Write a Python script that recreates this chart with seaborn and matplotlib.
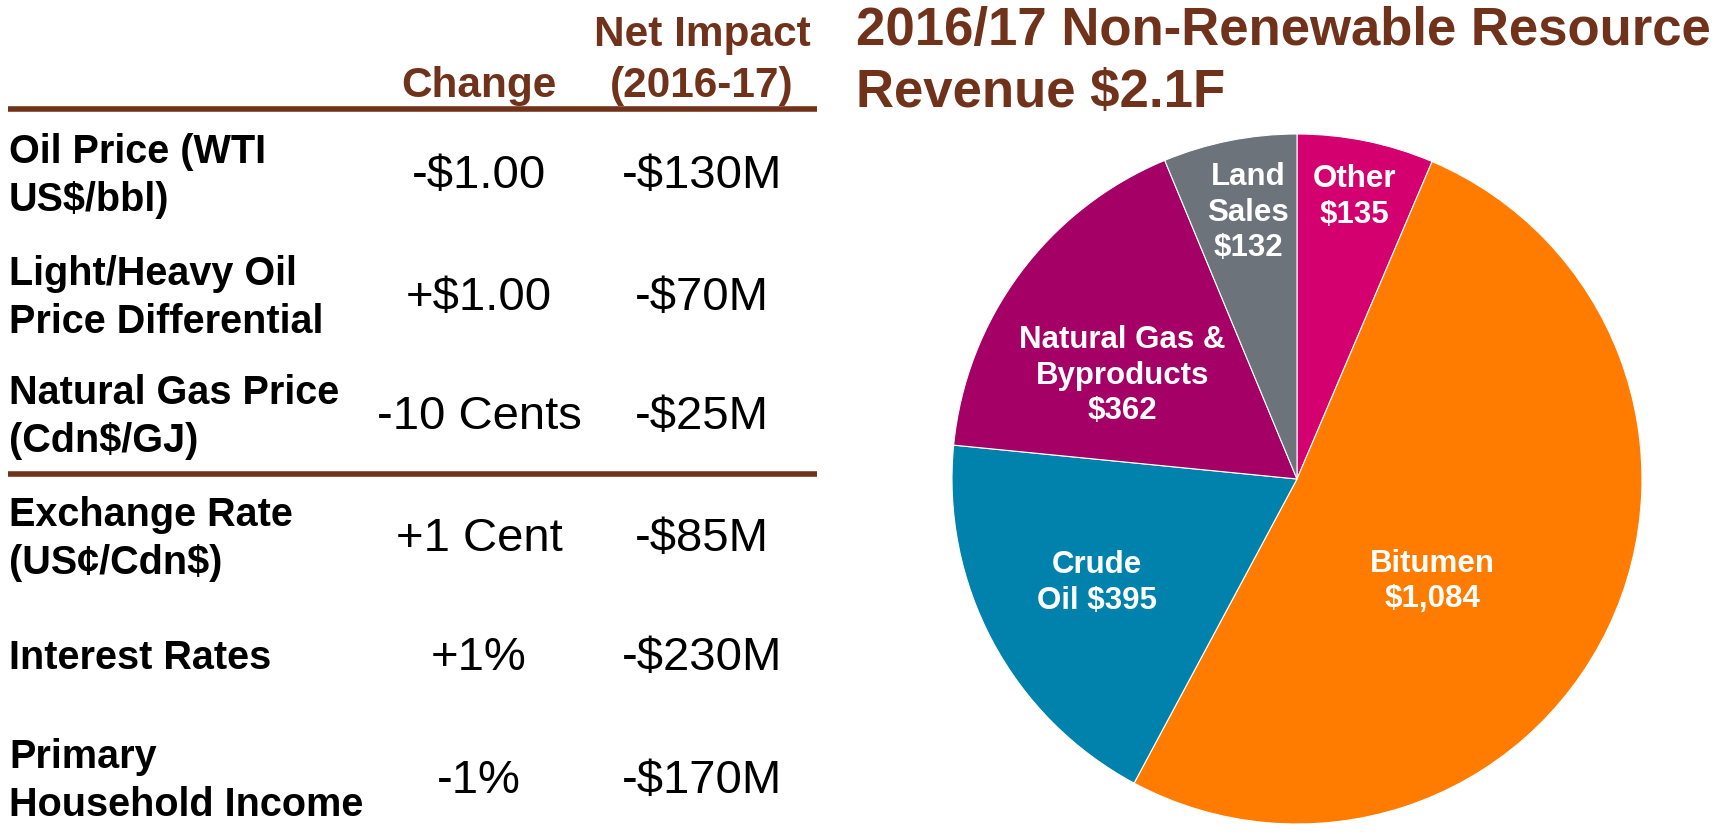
import numpy as np
import matplotlib
matplotlib.use("Agg")
import matplotlib.pyplot as plt
import seaborn as sns

# table data
row_labels = ["Oil Price (WTI\nUS$/bbl)", "Light/Heavy Oil\nPrice Differential",
              "Natural Gas Price\n(Cdn$/GJ)", "Exchange Rate\n(US¢/Cdn$)",
              "Interest Rates", "Primary\nHousehold Income"]
change_vals = ["-$1.00", "+$1.00", "-10 Cents", "+1 Cent", "+1%", "-1%"]
impact_vals = ["-$130M", "-$70M", "-$25M", "-$85M", "-$230M", "-$170M"]

# pie data (clockwise from 12 o'clock)
categories = ["Other", "Bitumen", "Crude Oil", "Natural Gas & Byproducts", "Land Sales"]
revenue = [135, 1084, 395, 362, 132]
pie_labels = ["Other\n$135", "Bitumen\n$1,084", "Crude\nOil $395",
              "Natural Gas &\nByproducts\n$362", "Land\nSales\n$132"]
pie_colors = ["#D5006F", "#FF7C00", "#0082AC", "#A50065", "#6D737B"]

sns.set_theme(style="white")
plt.rcParams['font.family'] = ['Liberation Sans', 'DejaVu Sans']
brown = "#70321A"

fig = plt.figure(figsize=(17.36, 8.34), dpi=100)

# ---- table on the left, drawn in pixel coordinates
axt = fig.add_axes([0, 0, 1, 1])
axt.set_xlim(0, 1736)
axt.set_ylim(834, 0)
axt.axis('off')

col_change = 479
col_impact = 702
axt.text(col_impact, 35, "Net Impact", ha='center', va='center', fontsize=30.5,
         fontweight='bold', color=brown)
axt.text(col_impact, 86, "(2016-17)", ha='center', va='center', fontsize=30.5,
         fontweight='bold', color=brown)
axt.text(col_change, 86, "Change", ha='center', va='center', fontsize=30.5,
         fontweight='bold', color=brown)
axt.plot([8, 817], [109, 109], color=brown, lw=4, solid_capstyle='butt')
axt.plot([8, 817], [474, 474], color=brown, lw=4, solid_capstyle='butt')

row_y = [176, 298, 417, 539, 658, 781]
for y, lab, ch, imp in zip(row_y, row_labels, change_vals, impact_vals):
    axt.text(9, y, lab, ha='left', va='center', fontsize=28.5, fontweight='bold',
             color='black', linespacing=1.35)
    axt.text(col_change, y, ch, ha='center', va='center', fontsize=34, color='black')
    axt.text(col_impact, y, imp, ha='center', va='center', fontsize=34, color='black')

# title
fig.text(856 / 1736, 1 - 62 / 834, "2016/17 Non-Renewable Resource\nRevenue $2.1F",
         ha='left', va='center', fontsize=38, fontweight='bold', color=brown,
         linespacing=1.3)

# ---- pie
cx, cy, r = 1297, 479, 345
axp = fig.add_axes([(cx - r) / 1736, (834 - cy - r) / 834, 2 * r / 1736, 2 * r / 834])
wedges, _ = axp.pie(revenue, colors=pie_colors, startangle=90, counterclock=False,
                    wedgeprops=dict(edgecolor='white', linewidth=0.8))
axp.set_xlim(-1, 1)
axp.set_ylim(-1, 1)
axp.set_aspect('equal')

label_r = [0.84, 0.49, 0.65, 0.59, 0.79]
label_shift = [0, -11, -1, 5.5, -1]
for w, lab, lr, sh in zip(wedges, pie_labels, label_r, label_shift):
    ang = np.deg2rad((w.theta1 + w.theta2) / 2 + sh)
    axp.text(lr * np.cos(ang), lr * np.sin(ang) - 0.005, lab, ha='center', va='center',
             fontsize=22.5, fontweight='bold', color='white', linespacing=1.25)

fig.savefig("out.png", dpi=100)
